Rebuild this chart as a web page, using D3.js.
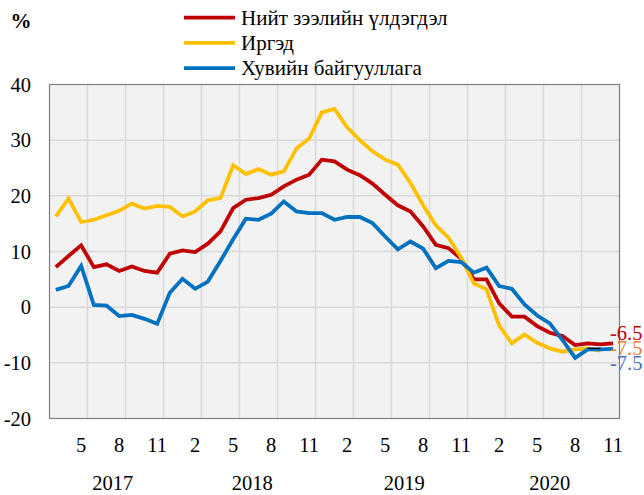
<!DOCTYPE html>
<html>
<head>
<meta charset="utf-8">
<script src="https://cdn.jsdelivr.net/npm/d3@7"></script>
<style>
  body { margin: 0; background: #fff; }
  svg text { font-family: "Liberation Serif", "Times New Roman", serif; }
</style>
</head>
<body>
<div id="chart"></div>
<script>
// months Mar 2017 .. Nov 2020
const months = [3,4,5,6,7,8,9,10,11,12,
  1,2,3,4,5,6,7,8,9,10,11,12,
  1,2,3,4,5,6,7,8,9,10,11,12,
  1,2,3,4,5,6,7,8,9,10,11];
const years = ["2017", "2018", "2019", "2020"];
const yearIndex = [[0, 9], [10, 21], [22, 33], [34, 44]];

const total = [7.2,9.2,11.1,7.2,7.7,6.5,7.3,6.5,6.2,9.6,
  10.2,9.9,11.4,13.6,17.8,19.3,19.6,20.2,21.7,22.9,23.8,26.5,
  26.2,24.7,23.7,22.2,20.2,18.3,17.2,14.5,11.2,10.6,8.7,5.0,
  5.0,0.7,-1.7,-1.7,-3.4,-4.6,-5.2,-6.8,-6.5,-6.7,-6.5];
const citizens = [16.3,19.5,15.3,15.7,16.5,17.3,18.6,17.7,18.2,18.0,
  16.3,17.2,19.2,19.6,25.5,23.9,24.8,23.8,24.4,28.5,30.3,35.0,
  35.6,32.3,30.0,28.0,26.5,25.6,22.3,18.3,14.7,12.5,8.9,4.3,
  3.2,-3.3,-6.5,-4.9,-6.4,-7.4,-8.0,-7.6,-7.4,-7.8,-7.5];
const business = [3.1,3.8,7.4,0.4,0.3,-1.6,-1.4,-2.1,-3.0,2.6,
  5.1,3.3,4.6,8.3,12.2,15.9,15.7,16.8,19.0,17.2,16.9,16.9,
  15.7,16.2,16.2,15.1,12.7,10.4,11.8,10.5,7.0,8.3,8.1,6.2,
  7.1,3.8,3.3,0.5,-1.5,-2.9,-5.9,-9.1,-7.6,-7.6,-7.5];

const seriesNames = ["Нийт зээлийн үлдэгдэл", "Иргэд", "Хувийн байгууллага"];
const seriesColors = ["#C00000", "#FFC000", "#0070C0"];
const endLabels = ["-6.5", "-7.5", "-7.5"];
const endLabelColors = ["#C00000", "#ED7D31", "#4472C4"];
const yTicks = [40, 30, 20, 10, 0, -10, -20];

const width = 644, height = 495;
const plot = { left: 49.5, right: 619.5, top: 84.5, bottom: 418.5 };

const svg = d3.select("#chart").append("svg")
  .attr("width", width)
  .attr("height", height);

const x = d3.scaleBand().domain(d3.range(months.length)).range([plot.left, plot.right]);
const y = d3.scaleLinear().domain([-20, 40]).range([plot.bottom, plot.top]);
const cx = (i) => x(i) + x.bandwidth() / 2;

// plot area
svg.append("rect")
  .attr("x", plot.left).attr("y", plot.top)
  .attr("width", plot.right - plot.left).attr("height", plot.bottom - plot.top)
  .attr("fill", "#F2F2F2");

// horizontal grid
svg.append("g")
  .selectAll("line")
  .data(yTicks.filter((d) => d > -20 && d < 40))
  .enter()
  .append("line")
  .attr("x1", plot.left).attr("x2", plot.right)
  .attr("y1", (d) => y(d)).attr("y2", (d) => y(d))
  .attr("stroke", "#D9D9D9")
  .attr("stroke-width", 1.5);

// vertical grid every 3 months
const vIdx = d3.range(2, months.length - 1, 3);
svg.append("g")
  .selectAll("line")
  .data(vIdx)
  .enter()
  .append("line")
  .attr("x1", (i) => x(i) + x.bandwidth()).attr("x2", (i) => x(i) + x.bandwidth())
  .attr("y1", plot.top).attr("y2", plot.bottom)
  .attr("stroke", "#D9D9D9")
  .attr("stroke-width", 1.5);

svg.append("rect")
  .attr("x", plot.left).attr("y", plot.top)
  .attr("width", plot.right - plot.left).attr("height", plot.bottom - plot.top)
  .attr("fill", "none")
  .attr("stroke", "#7F7F7F")
  .attr("stroke-width", 1.2);

// y labels
svg.append("g")
  .selectAll("text")
  .data(yTicks)
  .enter()
  .append("text")
  .attr("x", 31)
  .attr("y", (d) => y(d))
  .attr("dy", "0.35em")
  .attr("text-anchor", "end")
  .attr("font-size", "20.5px")
  .attr("fill", "#000")
  .text((d) => d);

svg.append("text")
  .attr("x", 21).attr("y", 21)
  .attr("dy", "0.35em")
  .attr("text-anchor", "middle")
  .attr("font-size", "21px")
  .attr("font-weight", "bold")
  .text("%");

// x labels
svg.append("g")
  .selectAll("text")
  .data(d3.range(2, months.length, 3))
  .enter()
  .append("text")
  .attr("x", (i) => cx(i))
  .attr("y", 445)
  .attr("dy", "0.35em")
  .attr("text-anchor", "middle")
  .attr("font-size", "20.5px")
  .text((i) => months[i]);

svg.append("g")
  .selectAll("text")
  .data(years)
  .enter()
  .append("text")
  .attr("x", (d, k) => (cx(yearIndex[k][0]) + cx(yearIndex[k][1])) / 2)
  .attr("y", 483)
  .attr("dy", "0.35em")
  .attr("text-anchor", "middle")
  .attr("font-size", "20.5px")
  .text((d) => d);

// lines
const line = d3.line().x((d, i) => cx(i)).y((d) => y(d));
[total, citizens, business].forEach((s, k) => {
  svg.append("path")
    .datum(k === 1 ? s.slice(0, -1) : s)
    .attr("d", line)
    .attr("fill", "none")
    .attr("stroke", seriesColors[k])
    .attr("stroke-width", 3.8)
    .attr("stroke-linejoin", "miter");
});

// small leader segment near the end
svg.append("line")
  .attr("x1", cx(42)).attr("x2", cx(43))
  .attr("y1", y(-7.4)).attr("y2", y(-7.4))
  .attr("stroke", "#000")
  .attr("stroke-width", 1.2);

// end labels (they overlap in the original too)
const endY = [333, 348, 363];
svg.append("g")
  .selectAll("text")
  .data(endLabels)
  .enter()
  .append("text")
  .attr("x", 610)
  .attr("y", (d, k) => endY[k])
  .attr("dy", "0.35em")
  .attr("font-size", "20.5px")
  .attr("fill", (d, k) => endLabelColors[k])
  .text((d) => d);

// legend
const legend = svg.append("g").attr("transform", "translate(184, 17.7)");
seriesNames.forEach((name, k) => {
  const g = legend.append("g").attr("transform", `translate(0, ${k * 25.2})`);
  g.append("line")
    .attr("x1", 0).attr("x2", 51)
    .attr("stroke", seriesColors[k])
    .attr("stroke-width", 3.8);
  g.append("text")
    .attr("x", 57)
    .attr("dy", "0.35em")
    .attr("font-size", "21px")
    .text(name);
});
</script>
</body>
</html>
